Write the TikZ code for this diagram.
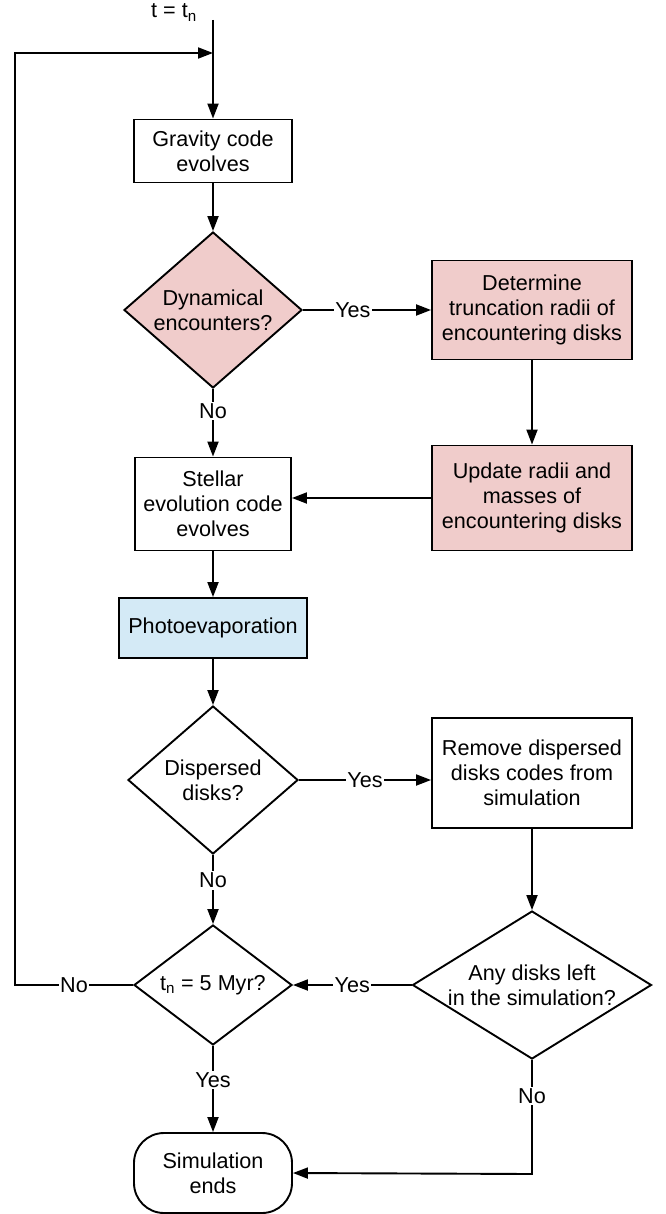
\documentclass[tikz,border=0pt]{standalone}
\usepackage{fontspec}
\setmainfont{Liberation Sans}
\usetikzlibrary{shapes.geometric,arrows.meta}
\definecolor{pinkfill}{RGB}{240,204,203}
\definecolor{bluefill}{RGB}{212,234,246}
\begin{document}
\begin{tikzpicture}[x=1pt,y=-1pt,line width=1.9pt,
  font=\fontsize{21.6}{25}\selectfont,
  box/.style={draw,rectangle,align=center,inner sep=0pt},
  dia/.style={draw,diamond,inner sep=0pt},
  arr/.style={-{Triangle[length=15pt,width=11pt]}},
  lab/.style={fill=white,inner sep=1.5pt}]
\useasboundingbox (0,0) rectangle (665,1214);

\node[anchor=base] (tt) at (174,18) {t = t\textsubscript{n}};
\coordinate (top) at (213,20);
\coordinate (join) at (213,53);
\coordinate (loopL) at (15,985);
\coordinate (loopT) at (15,53);
\coordinate (corner) at (532,1174);

\node[box,minimum width=158pt,minimum height=63pt] (grav) at (213,151) {Gravity code\\evolves};
\node[dia,fill=pinkfill,minimum width=178pt,minimum height=156pt,
  label={[align=center]center:Dynamical\\encounters?}] (dyn) at (213,310) {};
\node[box,fill=pinkfill,minimum width=200pt,minimum height=99pt] (det) at (532,310) {Determine\\truncation radii of\\encountering disks};
\node[box,minimum width=156pt,minimum height=93pt] (st) at (213,504) {Stellar\\evolution code\\evolves};
\node[box,fill=pinkfill,minimum width=200pt,minimum height=105pt] (upd) at (532,498) {Update radii and\\masses of\\encountering disks};
\node[box,fill=bluefill,minimum width=188pt,minimum height=60pt] (ph) at (213,628) {Photoevaporation};
\node[dia,minimum width=170pt,minimum height=148pt,
  label={[align=center]center:Dispersed\\disks?}] (disp) at (213,780) {};
\node[box,minimum width=200pt,minimum height=110pt] (rem) at (532,773) {Remove dispersed\\disks codes from\\simulation};
\node[dia,minimum width=158pt,minimum height=120pt,
  label={[align=center]center:t\textsubscript{n} = 5 Myr?}] (tn) at (213,985) {};
\node[dia,minimum width=239pt,minimum height=148pt,
  label={[align=center]center:Any disks left\\in the simulation?}] (any) at (532,985) {};
\node[box,rounded corners=30pt,minimum width=158pt,minimum height=80pt] (sim) at (213,1173) {Simulation\\ends};

\draw[arr] (top) -- (grav.north);
\draw[arr] (grav.south) -- (dyn.north);
\draw[arr] (dyn.east) -- node[lab,pos=0.39]{Yes} (det.west);
\draw[arr] (dyn.south) -- node[lab,pos=0.33]{No} (st.north);
\draw[arr] (det.south) -- (upd.north);
\draw[arr] (upd.west) -- (upd.west -| st.east);
\draw[arr] (st.south) -- (ph.north);
\draw[arr] (ph.south) -- (disp.north);
\draw[arr] (disp.east) -- node[lab]{Yes} (disp.east -| rem.west);
\draw[arr] (disp.south) -- node[lab,pos=0.37]{No} (tn.north);
\draw[arr] (rem.south) -- (any.north);
\draw[arr] (any.west) -- node[lab]{Yes} (tn.east);
\draw[arr] (tn.west) -- node[lab]{No} (loopL) -- (loopT) -- (join);
\draw[arr] (tn.south) -- node[lab,pos=0.4]{Yes} (sim.north);
\draw[arr] (any.south) -- node[lab,pos=0.32]{No} (corner) -- (sim.east);
\end{tikzpicture}
\end{document}
